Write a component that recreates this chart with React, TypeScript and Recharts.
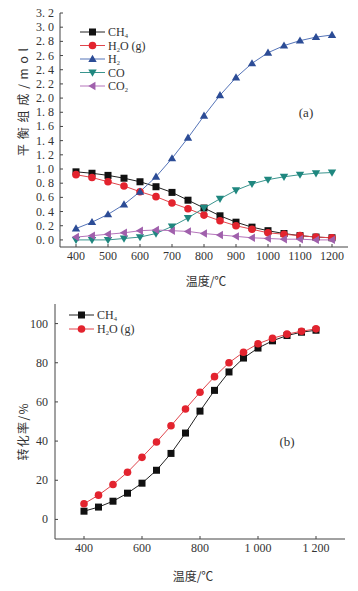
import React from 'react';
import { LineChart, Line, XAxis, YAxis, Legend } from 'recharts';

// temperatures, °C
const temps = [400, 450, 500, 550, 600, 650, 700, 750, 800, 850, 900, 950, 1000, 1050, 1100, 1150, 1200];

// (a) equilibrium composition, mol
const ch4Mol = [0.96, 0.94, 0.91, 0.87, 0.82, 0.75, 0.67, 0.56, 0.45, 0.34, 0.25, 0.18, 0.13, 0.09, 0.06, 0.04, 0.03];
const h2oMol = [0.92, 0.88, 0.82, 0.76, 0.68, 0.61, 0.52, 0.44, 0.35, 0.27, 0.2, 0.15, 0.1, 0.08, 0.06, 0.04, 0.03];
const h2Mol = [0.16, 0.25, 0.36, 0.5, 0.68, 0.89, 1.15, 1.44, 1.75, 2.04, 2.29, 2.49, 2.64, 2.74, 2.81, 2.86, 2.89];
const coMol = [0.0, 0.0, 0.0, 0.02, 0.04, 0.09, 0.19, 0.31, 0.45, 0.58, 0.7, 0.79, 0.85, 0.89, 0.92, 0.94, 0.95];
const co2Mol = [0.04, 0.06, 0.08, 0.1, 0.13, 0.14, 0.13, 0.12, 0.09, 0.07, 0.05, 0.03, 0.02, 0.01, 0.01, 0.0, 0.0];

// (b) conversion, %
const ch4Conv = [4.2, 6.3, 9.3, 13.4, 18.5, 25.1, 33.7, 44.1, 55.3, 65.9, 75.3, 82.4, 87.5, 91.2, 93.9, 95.6, 96.6];
const h2oConv = [8.0, 12.4, 17.8, 24.1, 31.7, 39.5, 47.8, 56.4, 64.9, 72.9, 80.0, 85.4, 89.7, 92.5, 94.6, 96.1, 97.3];

const ticksA_x = [400, 500, 600, 700, 800, 900, 1000, 1100, 1200];
const ticksA_y = [0, 0.2, 0.4, 0.6, 0.8, 1.0, 1.2, 1.4, 1.6, 1.8, 2.0, 2.2, 2.4, 2.6, 2.8, 3.0, 3.2];
const ticksB_x = [400, 600, 800, 1000, 1200];
const ticksB_y = [0, 20, 40, 60, 80, 100];

const dataA = temps.map((t, i) => ({ t, ch4: ch4Mol[i], h2o: h2oMol[i], h2: h2Mol[i], co: coMol[i], co2: co2Mol[i] }));
const dataB = temps.map((t, i) => ({ t, ch4: ch4Conv[i], h2o: h2oConv[i] }));

const serif = '"Liberation Serif", "DejaVu Serif", serif';
const cjk = '"Noto Sans CJK SC", sans-serif';
const axisColor = '#444';
const textColor = '#333';

const series = {
  ch4: { main: 'CH', sub: '4', rest: '', line: '#222', fill: '#111', shape: 'square' },
  h2o: { main: 'H', sub: '2', rest: 'O (g)', line: '#e0454c', fill: '#e3232e', shape: 'circle' },
  h2: { main: 'H', sub: '2', rest: '', line: '#5574b8', fill: '#2c4c96', shape: 'up' },
  co: { main: 'CO', sub: '', rest: '', line: '#3a958e', fill: '#1f877f', shape: 'down' },
  co2: { main: 'CO', sub: '2', rest: '', line: '#b574bb', fill: '#a060ac', shape: 'left' },
};

function Marker({ cx, cy, shape, fill }: any) {
  if (cx == null || cy == null) return null;
  const s = 3.5;
  const t = 4.2;
  switch (shape) {
    case 'square':
      return <rect x={cx - s} y={cy - s} width={2 * s} height={2 * s} fill={fill} />;
    case 'circle':
      return <circle cx={cx} cy={cy} r={s + 0.3} fill={fill} />;
    case 'up':
      return <polygon points={`${cx},${cy - t} ${cx + t},${cy + t * 0.7} ${cx - t},${cy + t * 0.7}`} fill={fill} />;
    case 'down':
      return <polygon points={`${cx},${cy + t} ${cx + t},${cy - t * 0.7} ${cx - t},${cy - t * 0.7}`} fill={fill} />;
    case 'left':
      return <polygon points={`${cx - t},${cy} ${cx + t * 0.7},${cy - t} ${cx + t * 0.7},${cy + t}`} fill={fill} />;
    default:
      return null;
  }
}

function YTick({ x, y, payload, fmt, gap }: any) {
  return (
    <g>
      <line x1={x + gap} x2={x + gap + 3} y1={y} y2={y} stroke={axisColor} />
      <text x={x} y={y + 4} textAnchor="end" fontFamily={serif} fontSize={12} fill={textColor}>
        {fmt(payload.value)}
      </text>
    </g>
  );
}

function XTick({ x, y, payload, fmt, gap }: any) {
  return (
    <g>
      <line x1={x} x2={x} y1={y - gap} y2={y - gap - 3} stroke={axisColor} />
      <text x={x} y={y + 9} textAnchor="middle" fontFamily={serif} fontSize={12} fill={textColor}>
        {fmt(payload.value)}
      </text>
    </g>
  );
}

// legend drawn by hand so the chemical subscripts sit right
const legendContent = (keys: string[], step: number) => () => (
  <svg width={120} height={keys.length * step + 4}>
    {keys.map((k, i) => {
      const s = (series as any)[k];
      const y = 7 + i * step;
      return (
        <g key={k}>
          <line x1={0} x2={25} y1={y} y2={y} stroke={s.line} />
          <Marker cx={12.5} cy={y} shape={s.shape} fill={s.fill} />
          <text x={28} y={y + 4} fontFamily={serif} fontSize={12} fill={textColor}>
            <tspan>{s.main}</tspan>
            {s.sub && <tspan fontSize={6.5} dy={2}>{s.sub}</tspan>}
            {s.rest && <tspan dy={s.sub ? -2 : 0}>{s.rest}</tspan>}
          </text>
        </g>
      );
    })}
  </svg>
);

const fmtA_y = (v: number) => v.toFixed(1).replace('.', '. ');
const fmtPlain = (v: number) => String(v);
const fmtThousands = (v: number) => (v >= 1000 ? `${Math.floor(v / 1000)} ${String(v % 1000).padStart(3, '0')}` : String(v));

function dotFor(key: string) {
  const s = (series as any)[key];
  return (p: any) => <Marker key={`${key}-${p.index}`} cx={p.cx} cy={p.cy} shape={s.shape} fill={s.fill} />;
}

export default function App() {
  const keysA = ['ch4', 'h2o', 'h2', 'co', 'co2'];
  const keysB = ['ch4', 'h2o'];
  return (
    <div style={{ position: 'absolute', left: 0, top: 0, width: 358, height: 591, background: '#fff' }}>
      <div style={{ position: 'absolute', left: 0, top: 0 }}>
        <LineChart width={358} height={290} data={dataA} margin={{ top: 13, right: 10, left: 10, bottom: 23 }}>
          <XAxis
            dataKey="t"
            type="number"
            domain={[350, 1250]}
            ticks={ticksA_x}
            interval={0}
            height={20}
            stroke={axisColor}
            tickSize={0}
            tickMargin={4}
            tick={(p: any) => <XTick {...p} fmt={fmtPlain} gap={4} />}
          />
          <YAxis
            type="number"
            domain={[-0.1, 3.2]}
            ticks={ticksA_y}
            interval={0}
            allowDataOverflow
            width={50}
            stroke={axisColor}
            tickSize={0}
            tickMargin={6}
            tick={(p: any) => <YTick {...p} fmt={fmtA_y} gap={6} />}
          />
          <Legend
            layout="horizontal"
            verticalAlign="middle"
            align="center"
            content={legendContent(keysA, 13.5)}
            wrapperStyle={{ left: 80, top: 25, width: 120 }}
          />
          {keysA.map((k) => (
            <Line
              key={k}
              dataKey={k}
              stroke={(series as any)[k].line}
              strokeWidth={1}
              dot={dotFor(k)}
              activeDot={false}
              isAnimationActive={false}
            />
          ))}
        </LineChart>
      </div>
      <div style={{ position: 'absolute', left: 0, top: 290 }}>
        <LineChart width={358} height={301} data={dataB} margin={{ top: 14, right: 13, left: 5, bottom: 32 }}>
          <XAxis
            dataKey="t"
            type="number"
            domain={[300, 1300]}
            ticks={ticksB_x}
            interval={0}
            height={20}
            stroke={axisColor}
            tickSize={0}
            tickMargin={4}
            tick={(p: any) => <XTick {...p} fmt={fmtThousands} gap={4} />}
          />
          <YAxis
            type="number"
            domain={[-10, 110]}
            ticks={ticksB_y}
            interval={0}
            allowDataOverflow
            width={50}
            stroke={axisColor}
            tickSize={0}
            tickMargin={7}
            tick={(p: any) => <YTick {...p} fmt={fmtPlain} gap={7} />}
          />
          <Legend
            layout="horizontal"
            verticalAlign="middle"
            align="center"
            content={legendContent(keysB, 14)}
            wrapperStyle={{ left: 69, top: 18, width: 120 }}
          />
          {keysB.map((k) => (
            <Line
              key={k}
              dataKey={k}
              stroke={(series as any)[k].line}
              strokeWidth={1}
              dot={dotFor(k)}
              activeDot={false}
              isAnimationActive={false}
            />
          ))}
        </LineChart>
      </div>
      <svg width={358} height={591} style={{ position: 'absolute', left: 0, top: 0, pointerEvents: 'none' }}>
        <text x={22} y={102} transform="rotate(-90 22 102)" textAnchor="middle" dominantBaseline="central" fontFamily={cjk} fontSize={12} fill={textColor} textLength={108} lengthAdjust="spacing">
          平衡组成/mol
        </text>
        <text x={206} y={286} textAnchor="middle" fontFamily={cjk} fontSize={12} fill={textColor}>
          温度/℃
        </text>
        <text x={306} y={117} textAnchor="middle" fontFamily={serif} fontSize={13} fill={textColor}>
          (a)
        </text>
        <text x={22} y={432} transform="rotate(-90 22 432)" textAnchor="middle" dominantBaseline="central" fontFamily={cjk} fontSize={12} fill={textColor} textLength={57} lengthAdjust="spacing">
          转化率/%
        </text>
        <text x={193} y={581} textAnchor="middle" fontFamily={cjk} fontSize={12} fill={textColor}>
          温度/℃
        </text>
        <text x={287} y={446} textAnchor="middle" fontFamily={serif} fontSize={13} fill={textColor}>
          (b)
        </text>
      </svg>
    </div>
  );
}
